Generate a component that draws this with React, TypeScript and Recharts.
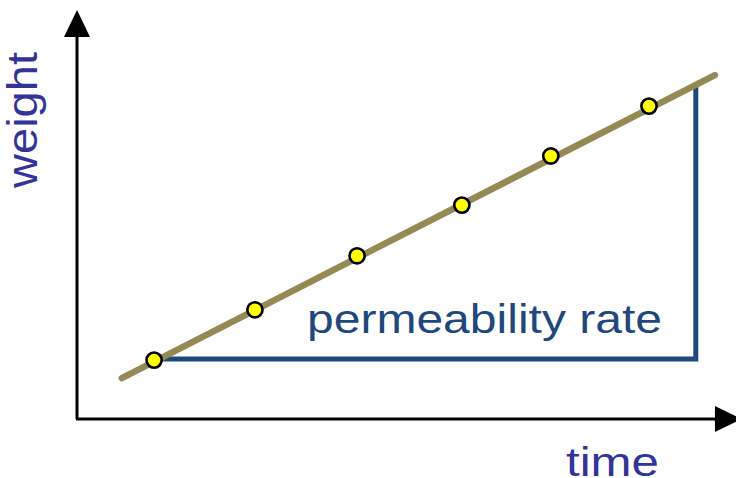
import React from "react";
import { ComposedChart, Line, Scatter, XAxis, YAxis, ReferenceLine } from "recharts";

// measurement points (time, weight) in arbitrary 0–100 units
const timePoints = [11.7, 27.0, 42.5, 58.4, 71.9, 86.8];
const weightPoints = [14.4, 26.7, 39.9, 52.3, 64.3, 76.5];

// fitted straight line through the points
const fitTime = [6.8, 96.8];
const fitWeight = [10.0, 84.1];

// right-angle marking the permeability rate (slope)
const rateTime = [11.7, 93.9, 93.9];
const rateWeight = [14.7, 14.7, 81.4];

// axis arrows
const axisOrigin = { time: 0, weight: 0 };
const timeAxisEnd = 100.9;
const weightAxisEnd = 100;

const axisLabels = { y: "weight", x: "time", rate: "permeability rate" };

const measured = timePoints.map((t, i) => ({ time: t, weight: weightPoints[i] }));
const fitData = fitTime.map((t, i) => ({ time: t, weight: fitWeight[i] }));
const rateData = rateTime.map((t, i) => ({ time: t, weight: rateWeight[i] }));

const FONT = "'Liberation Sans', Arial, Helvetica, sans-serif";

const Arrow = (props: any) => {
  const { x1, y1, x2, y2 } = props;
  const dx = x2 - x1;
  const dy = y2 - y1;
  const len = Math.sqrt(dx * dx + dy * dy) || 1;
  const ux = dx / len;
  const uy = dy / len;
  const headLen = 27;
  const headHalf = 13;
  const bx = x2 - ux * headLen;
  const by = y2 - uy * headLen;
  const px = -uy;
  const py = ux;
  const pts = `${x2},${y2} ${bx + px * headHalf},${by + py * headHalf} ${bx - px * headHalf},${by - py * headHalf}`;
  return (
    <g>
      <line x1={x1} y1={y1} x2={bx + ux * 1} y2={by + uy * 1} stroke="#000" strokeWidth={3} />
      <polygon points={pts} fill="#000" />
    </g>
  );
};

const Dot = (props: any) => {
  const { cx, cy } = props;
  return <circle cx={cx} cy={cy} r={7.6} fill="#FFFF00" stroke="#000" strokeWidth={2.6} />;
};

export default function App() {
  return (
    <div style={{ position: "absolute", left: 0, top: 0, width: 736, height: 478, background: "#fff" }}>
      <ComposedChart
        width={736}
        height={478}
        margin={{ top: 10, right: 0, left: 77, bottom: 59 }}
        style={{ overflow: "hidden" }}
      >
        <XAxis type="number" dataKey="time" domain={[0, 100]} hide allowDataOverflow />
        <YAxis type="number" dataKey="weight" domain={[0, 100]} hide allowDataOverflow />
        <ReferenceLine
          segment={[
            { x: axisOrigin.time, y: axisOrigin.weight },
            { x: axisOrigin.time, y: weightAxisEnd },
          ]}
          ifOverflow="visible"
          shape={Arrow}
        />
        <ReferenceLine
          segment={[
            { x: axisOrigin.time - 0.15, y: axisOrigin.weight },
            { x: timeAxisEnd, y: axisOrigin.weight },
          ]}
          ifOverflow="visible"
          shape={Arrow}
        />
        <Line
          data={rateData}
          dataKey="weight"
          type="linear"
          stroke="#1F497D"
          strokeWidth={5}
          strokeLinejoin="miter"
          strokeLinecap="butt"
          dot={false}
          activeDot={false}
          isAnimationActive={false}
        />
        <Line
          data={fitData}
          dataKey="weight"
          type="linear"
          stroke="#948A54"
          strokeWidth={6.5}
          strokeLinecap="round"
          dot={false}
          activeDot={false}
          isAnimationActive={false}
        />
        <Scatter data={measured} dataKey="weight" shape={Dot} isAnimationActive={false} />
        <text
          x={37}
          y={120}
          transform="rotate(-90 37 120)"
          textAnchor="middle"
          fontFamily={FONT}
          fontSize={43}
          fill="#333399"
          textLength={136}
          lengthAdjust="spacingAndGlyphs"
        >
          {axisLabels.y}
        </text>
        <text
          x={566}
          y={476}
          fontFamily={FONT}
          fontSize={40}
          fill="#333399"
          textLength={93}
          lengthAdjust="spacingAndGlyphs"
        >
          {axisLabels.x}
        </text>
        <text
          x={307}
          y={333}
          fontFamily={FONT}
          fontSize={40}
          fill="#1F497D"
          textLength={355}
          lengthAdjust="spacingAndGlyphs"
        >
          {axisLabels.rate}
        </text>
      </ComposedChart>
    </div>
  );
}
